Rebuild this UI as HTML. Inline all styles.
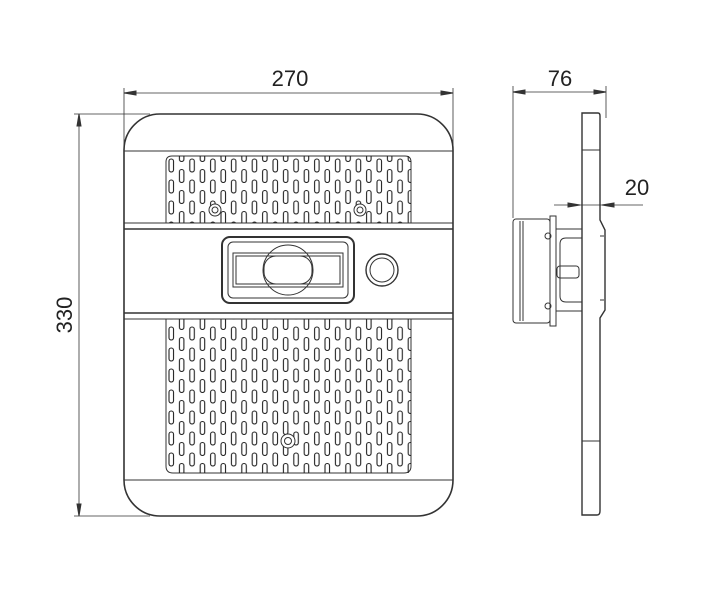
<!DOCTYPE html>
<html><head><meta charset="utf-8"><style>
html,body{margin:0;padding:0;background:#fff;width:701px;height:601px;overflow:hidden}
svg{display:block}
text{font-family:"Liberation Sans",sans-serif;fill:#222}
</style></head><body>
<svg width="701" height="601" viewBox="0 0 701 601" xmlns="http://www.w3.org/2000/svg">
<defs>
<pattern id="slots" x="168" y="158" width="20.8" height="21" patternUnits="userSpaceOnUse">
<rect x="1" y="1" width="4.5" height="13" rx="2.2" fill="none" stroke="#222" stroke-width="1.1"/>
<rect x="11.4" y="11.5" width="4.5" height="13" rx="2.2" fill="none" stroke="#222" stroke-width="1.1"/>
<rect x="11.4" y="-9.5" width="4.5" height="13" rx="2.2" fill="none" stroke="#222" stroke-width="1.1"/>
</pattern>
</defs>
<g fill="none" stroke="#333" stroke-width="1">
<line x1="124" y1="88" x2="124" y2="150" stroke-width="0.8"/>
<line x1="453" y1="88" x2="453" y2="150" stroke-width="0.8"/>
<line x1="124" y1="93" x2="453" y2="93" stroke-width="0.8"/>
<path d="M124 93 l12 -2 v4z M453 93 l-12 -2 v4z" fill="#333"/>
<line x1="74" y1="114" x2="150" y2="114" stroke-width="0.8"/>
<line x1="74" y1="516" x2="150" y2="516" stroke-width="0.8"/>
<line x1="79" y1="114" x2="79" y2="516" stroke-width="0.8"/>
<path d="M79 114 l-2 12 h4z M79 516 l-2 -12 h4z" fill="#333"/>
<rect x="124" y="114" width="329" height="402" rx="36" stroke-width="1.6"/>
<line x1="124" y1="151" x2="453" y2="151"/>
<path d="M166 223 V162 q0-6 6-6 H405 q6 0 6 6 V223"/>
<rect x="166" y="156" width="245" height="67" fill="url(#slots)" stroke="none"/>
<line x1="124" y1="223" x2="453" y2="223"/>
<line x1="124" y1="229" x2="453" y2="229" stroke-width="1.6"/>
<circle cx="215" cy="210" r="6" fill="#fff"/><circle cx="215" cy="210" r="3"/>
<circle cx="360" cy="210" r="6" fill="#fff"/><circle cx="360" cy="210" r="3"/>
<rect x="222" y="237" width="132" height="66" rx="8" stroke-width="2"/>
<rect x="228" y="242" width="120" height="56" rx="5"/>
<rect x="233" y="253" width="110" height="34"/>
<rect x="236" y="256" width="104" height="28"/>
<circle cx="288" cy="270" r="25"/>
<rect x="264" y="256" width="48" height="28" rx="12" fill="#fff"/>
<circle cx="382" cy="270" r="16" stroke-width="1.4"/>
<circle cx="382" cy="270" r="12"/>
<line x1="124" y1="313" x2="453" y2="313" stroke-width="1.6"/>
<line x1="124" y1="319" x2="453" y2="319"/>
<path d="M166 319 V466 q0 7 7 7 H404 q7 0 7-7 V319"/>
<rect x="166" y="319" width="245" height="154" fill="url(#slots)" stroke="none"/>
<circle cx="288" cy="441" r="7" fill="#fff"/><circle cx="288" cy="441" r="3.5"/>
<line x1="124" y1="480" x2="453" y2="480"/>
<line x1="513" y1="86" x2="513" y2="218" stroke-width="0.8"/>
<line x1="606" y1="86" x2="606" y2="118" stroke-width="0.8"/>
<line x1="513" y1="92" x2="606" y2="92" stroke-width="0.8"/>
<path d="M513 92 l12 -2 v4z M606 92 l-12 -2 v4z" fill="#333"/>
<line x1="554" y1="205" x2="643" y2="205" stroke-width="0.8"/>
<path d="M580 205 l-12 -2 v4z M602 205 l12 -2 v4z" fill="#333"/>
<path d="M582 113 H598 q2 0 2 3 V220 L605 230 V310 L600 318 V511 q0 4 -3 4 H582 Z" stroke-width="1.4"/>
<line x1="582" y1="150" x2="600" y2="150"/>
<line x1="582" y1="441" x2="600" y2="441"/>
<path d="M600 236 H604 M600 300 H604"/>
<rect x="513" y="219" width="37" height="104" rx="3"/>
<line x1="520" y1="221" x2="520" y2="321"/>
<line x1="523" y1="221" x2="523" y2="321"/>
<rect x="550" y="216" width="6" height="110"/>
<rect x="556" y="229" width="26" height="82"/>
<path d="M566 238 H582 V302 H566 Q560 302 560 296 V244 Q560 238 566 238Z"/>
<rect x="557" y="266" width="22" height="12" rx="3"/>
<circle cx="548" cy="236" r="3"/><circle cx="548" cy="306" r="3"/>
</g>
<text x="290" y="86" font-size="22" text-anchor="middle">270</text>
<text x="560" y="86" font-size="22" text-anchor="middle">76</text>
<text x="637" y="195" font-size="22" text-anchor="middle">20</text>
<text x="0" y="0" font-size="22" text-anchor="middle" transform="translate(72 315) rotate(-90)">330</text>
</svg>
</body></html>
